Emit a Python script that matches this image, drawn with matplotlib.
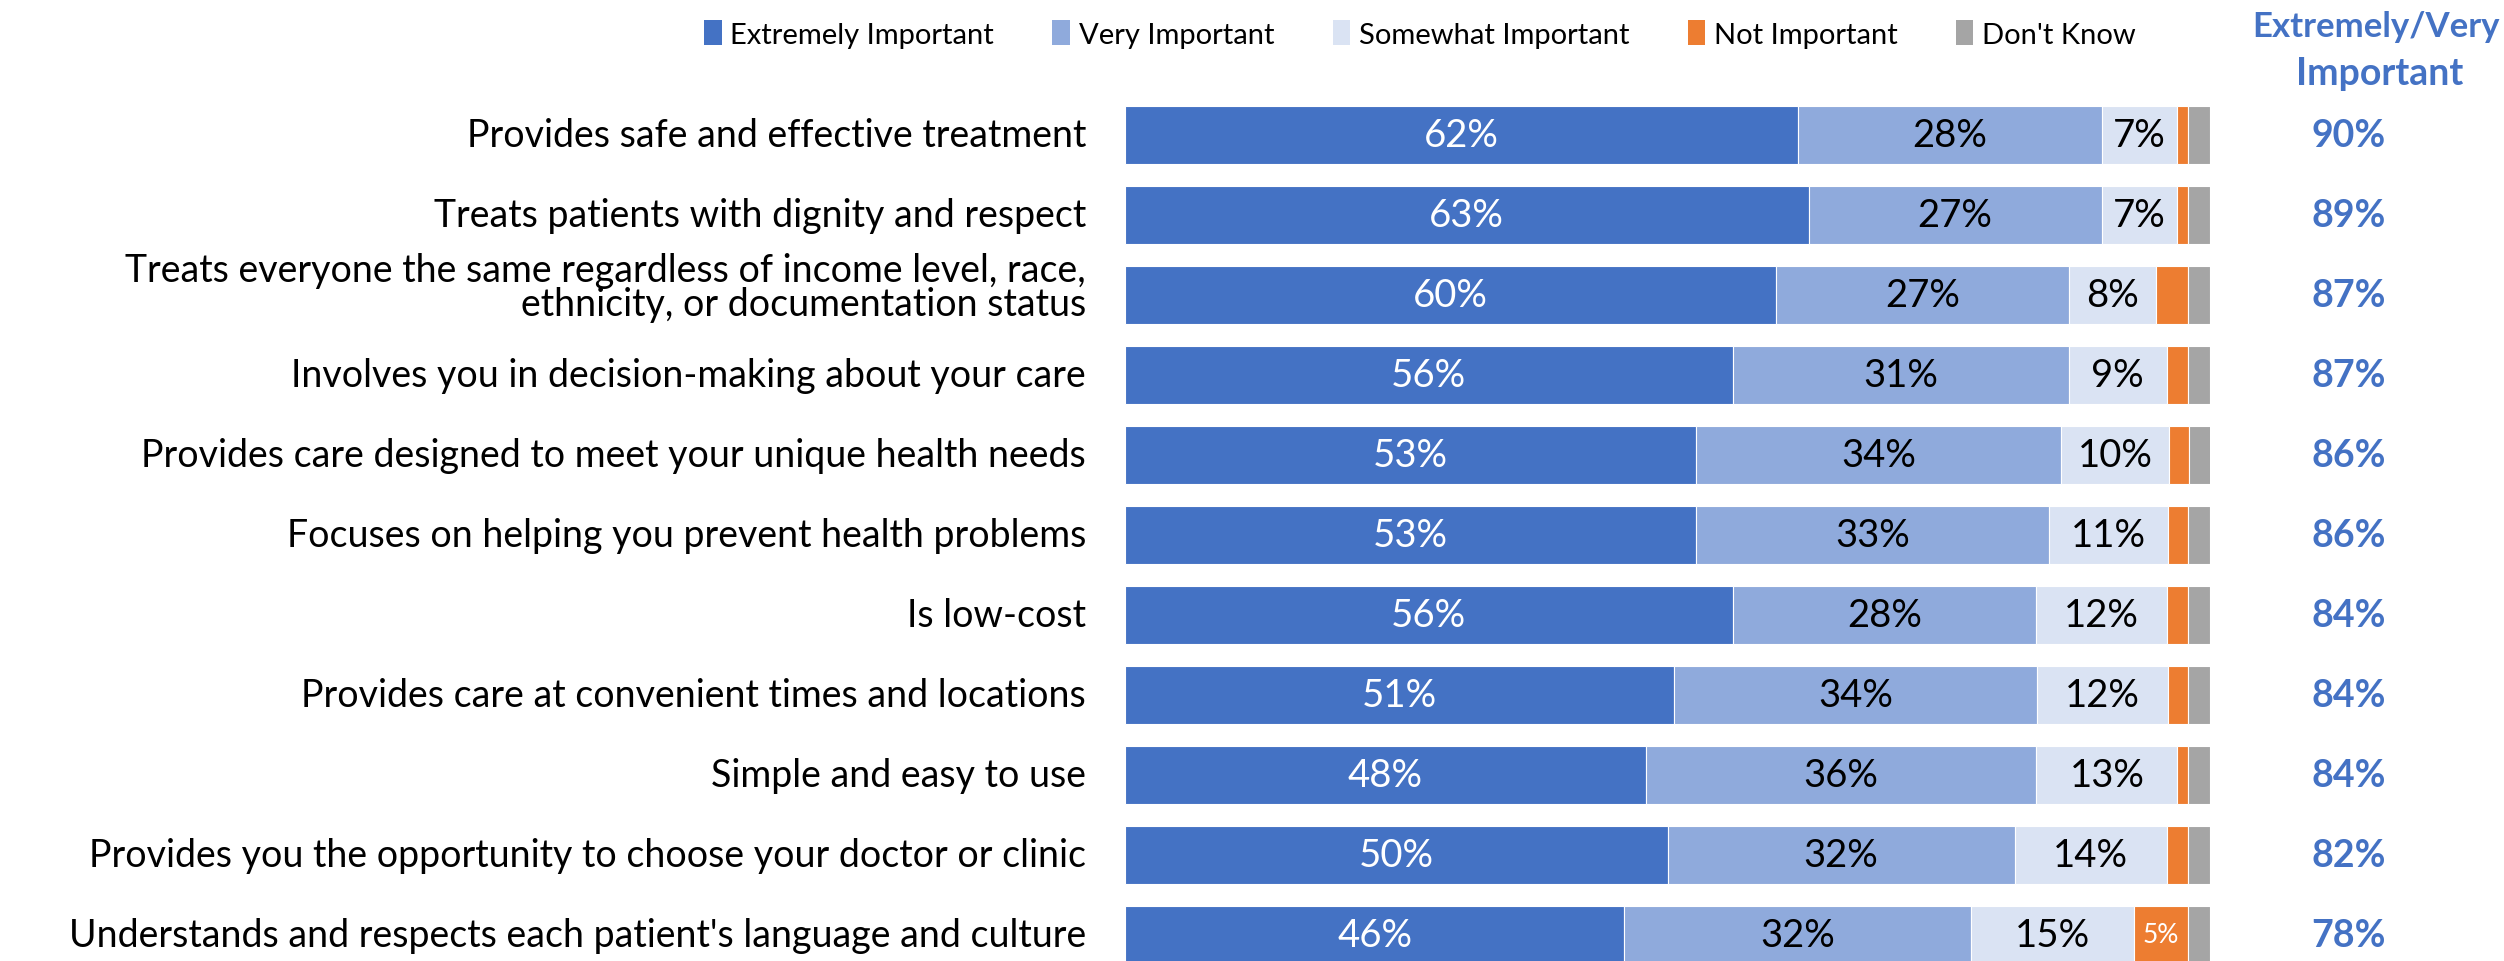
import numpy as np
import matplotlib.pyplot as plt
from matplotlib.patches import Patch

plt.rcParams['font.family'] = ['Lato', 'DejaVu Sans']

categories = [
    "Provides safe and effective treatment",
    "Treats patients with dignity and respect",
    "Treats everyone the same regardless of income level, race,\nethnicity, or documentation status",
    "Involves you in decision-making about your care",
    "Provides care designed to meet your unique health needs",
    "Focuses on helping you prevent health problems",
    "Is low-cost",
    "Provides care at convenient times and locations",
    "Simple and easy to use",
    "Provides you the opportunity to choose your doctor or clinic",
    "Understands and respects each patient's language and culture",
]
extremely = [62, 63, 60, 56, 52.6, 52.6, 56, 50.6, 48, 50, 46]
very = [28, 27, 27, 31, 33.7, 32.6, 28, 33.5, 36, 32, 32]
somewhat = [7, 7, 8, 9, 9.9, 10.9, 12, 12, 13, 14, 15]
not_imp = [1, 1, 3, 2, 1.9, 1.9, 2, 1.9, 1, 2, 5]
dont_know = [2, 2, 2, 2, 2, 2, 2, 2, 2, 2, 2]
ext_very = [90, 89, 87, 87, 86, 86, 84, 84, 84, 82, 78]

series = ["Extremely Important", "Very Important", "Somewhat Important",
          "Not Important", "Don't Know"]
colors = ["#4472C4", "#8FAADC", "#DAE3F3", "#ED7D31", "#A5A5A5"]
label_colors = ["white", "black", "black", "white", None]

fig = plt.figure(figsize=(25.04, 9.62), dpi=100)
ax = fig.add_axes([1125 / 2504, 0, 1085 / 2504, 866 / 962])

y = np.arange(len(categories))
left = np.zeros(len(categories))
for vals, name, col, lcol in zip([extremely, very, somewhat, not_imp, dont_know],
                                 series, colors, label_colors):
    vals = np.array(vals, dtype=float)
    ax.barh(y, vals, left=left, height=0.725, color=col, edgecolor='white',
            linewidth=0.8, label=name)
    if lcol is not None:
        for yi, l, v in zip(y, left, vals):
            if name == "Not Important" and v < 5:
                continue
            fs = 19 if name == "Not Important" else 27.5
            ax.text(l + v / 2, yi, f"{int(round(v))}%", ha='center', va='center',
                    color=lcol, fontsize=fs)
    left += vals

# category labels (two-line one sits a bit higher, like the original)
for yi, cat in zip(y, categories):
    dy = -0.1 if "\n" in cat else 0
    ax.text(-3.6, yi + dy, cat, ha='right', va='center', fontsize=27,
            linespacing=0.95, clip_on=False)

# extremely/very column
for yi, v in zip(y, ext_very):
    ax.text(112.8, yi, f"{v}%", ha='center', va='center', color="#4472C4",
            fontsize=27, fontweight='bold', clip_on=False)

fig.text(2376 / 2504, 1 - 27 / 962, "Extremely/Very", ha='center', va='center',
         color="#4472C4", fontsize=25, fontweight='bold')
fig.text(2380 / 2504, 1 - 74 / 962, "Important", ha='center', va='center',
         color="#4472C4", fontsize=27, fontweight='bold')

ax.set_xlim(0, 100)
ax.set_ylim(10.325, -0.5)
ax.set_yticks([])
ax.set_xticks([])
for s in ax.spines.values():
    s.set_visible(False)

handles = [Patch(facecolor=c, edgecolor='none') for c in colors]
fig.legend(handles, series, loc='center', bbox_to_anchor=(1420 / 2504, 1 - 35 / 962),
           ncol=5, frameon=False, fontsize=21, handlelength=0.6, handleheight=0.9,
           handletextpad=0.3, columnspacing=2.0)

fig.savefig("out.png", dpi=100)
